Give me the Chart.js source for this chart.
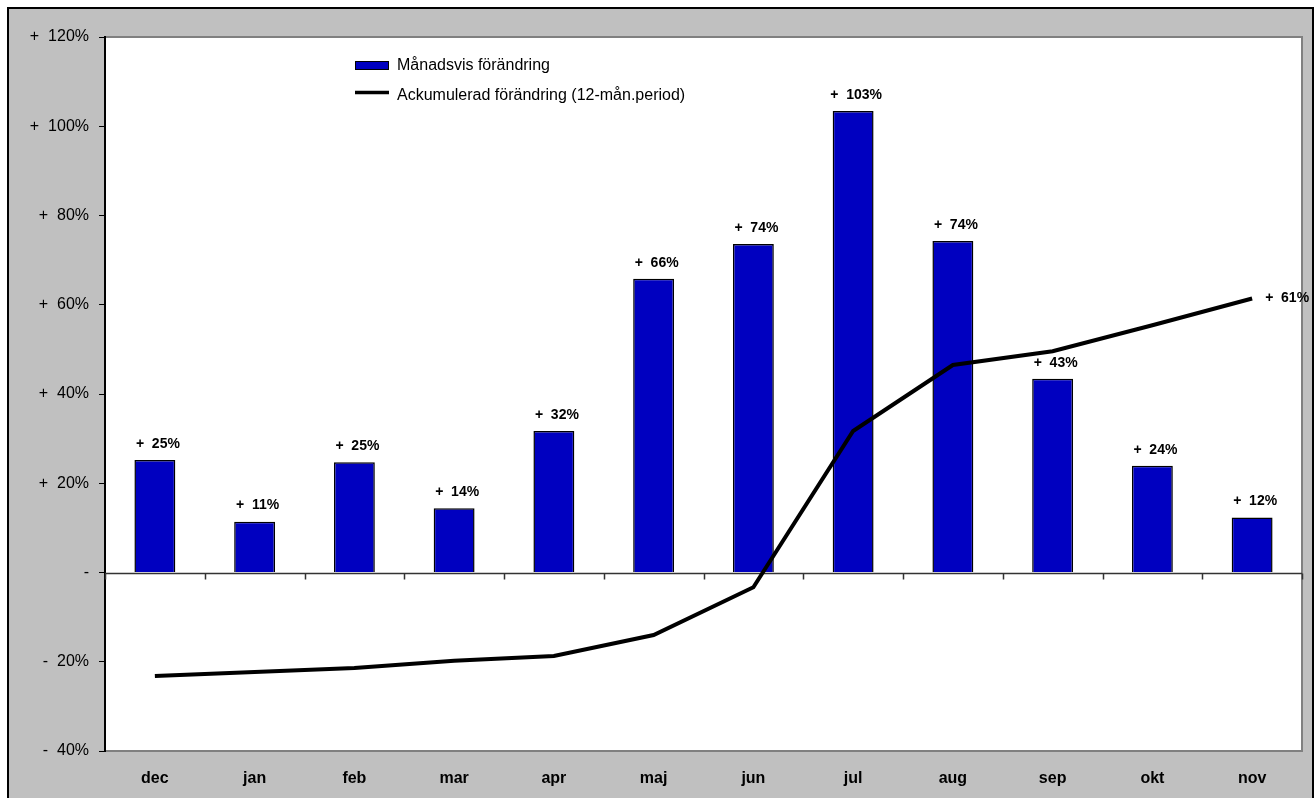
<!DOCTYPE html>
<html>
<head>
<meta charset="utf-8">
<script src="https://cdn.jsdelivr.net/npm/chart.js@4/dist/chart.umd.min.js"></script>
<style>
html,body{margin:0;padding:0;background:#fff;}
canvas{display:block;}
</style>
</head>
<body>
<canvas id="c" width="1315" height="798"></canvas>
<script>
const categories = ['dec','jan','feb','mar','apr','maj','jun','jul','aug','sep','okt','nov'];
const monthlyChange = [25.2, 11.4, 24.7, 14.4, 31.7, 65.8, 73.6, 103.4, 74.3, 43.4, 23.9, 12.3];
const cumulativeChange = [-23.2, -22.3, -21.4, -19.8, -18.7, -14.0, -3.3, 31.7, 46.5, 49.6, 55.4, 61.4];
const yTickMin = -40, yTickMax = 120, yTickStep = 20;
const seriesNames = ['Månadsvis förändring', 'Ackumulerad förändring (12-mån.period)'];

const FONT = '"Liberation Sans", Arial, Helvetica, sans-serif';
const BAR_COLOR = '#0000C0';

function signed(v) {
  const r = Math.round(v);
  if (r === 0) return '-';
  return (r > 0 ? '+  ' : '-  ') + Math.abs(r) + '%';
}

const framePlugin = {
  id: 'frame',
  beforeDraw(chart) {
    const ctx = chart.ctx, a = chart.chartArea;
    ctx.save();
    ctx.fillStyle = '#fff';
    ctx.fillRect(0, 0, chart.width, chart.height);
    ctx.fillStyle = '#C0C0C0';
    ctx.fillRect(9, 9, 1303, chart.height);
    ctx.strokeStyle = '#000';
    ctx.lineWidth = 2;
    ctx.strokeRect(8, 8, 1305, chart.height + 10);
    ctx.fillStyle = '#fff';
    ctx.fillRect(a.left, a.top, a.right - a.left, a.bottom - a.top);
    ctx.strokeStyle = '#808080';
    ctx.lineWidth = 2;
    ctx.beginPath();
    ctx.moveTo(a.left, a.top);
    ctx.lineTo(a.right, a.top);
    ctx.lineTo(a.right, a.bottom);
    ctx.lineTo(a.left, a.bottom);
    ctx.stroke();
    ctx.restore();
  },
  beforeDatasetsDraw(chart) {
    const ctx = chart.ctx, a = chart.chartArea;
    const xs = chart.scales.x, ys = chart.scales.y;
    const y0 = Math.round(ys.getPixelForValue(0)) + 0.5;
    ctx.save();
    ctx.strokeStyle = '#333';
    ctx.lineWidth = 1.5;
    ctx.beginPath();
    ctx.moveTo(a.left, y0);
    ctx.lineTo(a.right, y0);
    for (let i = 0; i <= categories.length; i++) {
      const x = Math.round(xs.getPixelForValue(i - 0.5)) + 0.5;
      ctx.moveTo(x, y0);
      ctx.lineTo(x, y0 + 6);
    }
    ctx.stroke();
    ctx.restore();
  },
  afterDatasetsDraw(chart) {
    const ctx = chart.ctx;
    ctx.save();
    ctx.fillStyle = '#000';
    ctx.font = 'bold 14px ' + FONT;
    const barMeta = chart.getDatasetMeta(1);
    ctx.textAlign = 'center';
    ctx.textBaseline = 'middle';
    barMeta.data.forEach((el, i) => {
      ctx.fillText(signed(monthlyChange[i]), el.x + 3, el.y - 16);
    });
    const lineMeta = chart.getDatasetMeta(0);
    const last = lineMeta.data[lineMeta.data.length - 1];
    ctx.textAlign = 'left';
    ctx.fillText(signed(cumulativeChange[cumulativeChange.length - 1]), last.x + 13, last.y);
    ctx.restore();
  },
  afterDraw(chart) {
    const ctx = chart.ctx;
    ctx.save();
    ctx.fillStyle = BAR_COLOR;
    ctx.fillRect(355, 61, 34, 9);
    ctx.strokeStyle = '#000';
    ctx.lineWidth = 1;
    ctx.strokeRect(355.5, 61.5, 33, 8);
    ctx.lineWidth = 3.5;
    ctx.beginPath();
    ctx.moveTo(355, 92.5);
    ctx.lineTo(389, 92.5);
    ctx.stroke();
    ctx.fillStyle = '#000';
    ctx.font = '16px ' + FONT;
    ctx.textAlign = 'left';
    ctx.textBaseline = 'middle';
    ctx.fillText(seriesNames[0], 397, 66);
    ctx.fillText(seriesNames[1], 397, 96);
    ctx.restore();
  }
};

new Chart(document.getElementById('c'), {
  data: {
    labels: categories,
    datasets: [
      {
        type: 'line',
        label: seriesNames[1],
        data: cumulativeChange,
        borderColor: '#000',
        borderWidth: 4,
        pointRadius: 0,
        tension: 0,
        fill: false,
        order: 0
      },
      {
        type: 'bar',
        label: seriesNames[0],
        data: monthlyChange,
        backgroundColor: BAR_COLOR,
        borderColor: '#000',
        borderWidth: 1.5,
        categoryPercentage: 1,
        barPercentage: 0.41,
        order: 1
      }
    ]
  },
  options: {
    responsive: false,
    animation: false,
    devicePixelRatio: 1,
    layout: { padding: { left: 0, top: 37, right: 13, bottom: 0 } },
    plugins: {
      legend: { display: false },
      tooltip: { enabled: false }
    },
    scales: {
      x: {
        offset: true,
        grid: { display: false, drawTicks: false },
        border: { display: false },
        ticks: {
          color: '#000',
          font: { family: FONT, size: 16, weight: 'bold' },
          padding: 18,
          maxRotation: 0
        },
        afterFit(scale) { scale.height = 47; }
      },
      y: {
        min: yTickMin,
        max: yTickMax,
        grid: {
          drawOnChartArea: false,
          drawTicks: true,
          tickLength: 6,
          color: '#000',
          lineWidth: 1
        },
        border: { display: true, color: '#000', width: 2 },
        ticks: {
          stepSize: yTickStep,
          color: '#000',
          padding: 10,
          font: { family: FONT, size: 16 },
          callback: (v) => signed(v)
        },
        afterFit(scale) { scale.width = 105; }
      }
    }
  },
  plugins: [framePlugin]
});
</script>
</body>
</html>
